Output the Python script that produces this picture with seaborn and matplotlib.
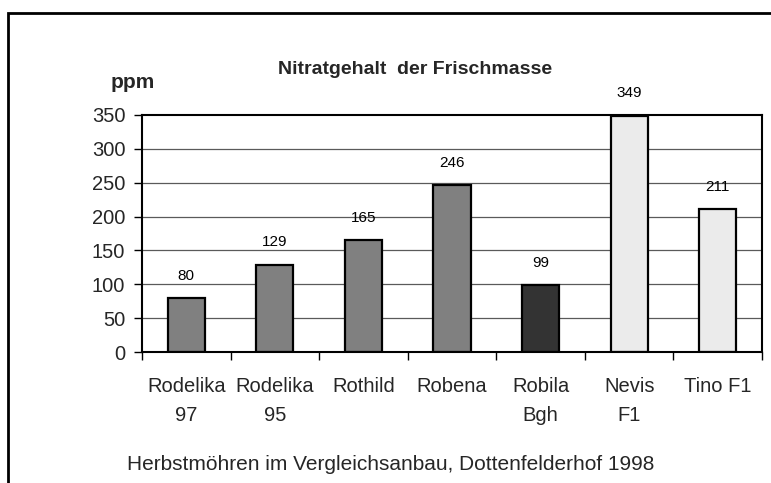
# Nitratgehalt der Frischmasse – Herbstmöhren, Dottenfelderhof 1998

import matplotlib.pyplot as plt
import numpy as np
import pandas as pd
import seaborn as sns
from matplotlib.patches import Rectangle

sorten = ["Rodelika\n97", "Rodelika\n95", "Rothild", "Robena", "Robila\nBgh", "Nevis\nF1", "Tino F1"]
nitrat_ppm = [80, 129, 165, 246, 99, 349, 211]
farben = ["#808080", "#808080", "#808080", "#808080", "#333333", "#ebebeb", "#ebebeb"]
y_ticks = [0, 50, 100, 150, 200, 250, 300, 350]

sns.set_theme(style="white")
plt.rcParams["font.family"] = ["Liberation Sans", "DejaVu Sans"]

df = pd.DataFrame({"sorte": sorten, "ppm": nitrat_ppm})

fig = plt.figure(figsize=(7.71, 4.83), dpi=100)
ax = fig.add_axes([142 / 771, 1 - 352 / 483, 620 / 771, 237 / 483])

# Rahmen um das ganze Diagramm (rechts und unten abgeschnitten)
fig.patches.append(Rectangle((8 / 771, -0.1), 1.2, 1 - 13 / 483 + 0.1,
                             transform=fig.transFigure, fill=False,
                             edgecolor="black", linewidth=2, zorder=0))

for y in y_ticks[1:-1]:
    ax.axhline(y, color="#5a5a5a", linewidth=0.9, zorder=0)

sns.barplot(data=df, x="sorte", y="ppm", hue="sorte", palette=farben, legend=False,
            width=0.42, edgecolor="black", linewidth=1.6, saturation=1, ax=ax, zorder=2)

for i, v in enumerate(nitrat_ppm):
    ax.annotate(str(v), (i, v), xytext=(0, 11), textcoords="offset points",
                ha="center", va="bottom", fontsize=11, color="black", annotation_clip=False)

ax.set_xlim(-0.5, len(sorten) - 0.5)
ax.set_ylim(0, 350)
ax.set_yticks(y_ticks)
ax.set_yticklabels([str(t) for t in y_ticks], fontsize=14.5)
ax.set_xticks(np.arange(-0.5, len(sorten)), labels=[""] * (len(sorten) + 1))
ax.set_xticks(np.arange(len(sorten)), labels=sorten, minor=True)
ax.tick_params(axis="x", which="major", direction="out", length=6, width=1, color="black", bottom=True)
ax.tick_params(axis="x", which="minor", length=0, pad=18, labelsize=14.5)
ax.tick_params(axis="y", direction="out", length=6, width=1, color="black", left=True, pad=6)
for lab in ax.get_xticklabels(minor=True):
    lab.set_linespacing(1.65)
ax.set_xlabel("")
ax.set_ylabel("")

for s in ax.spines.values():
    s.set_color("black")
    s.set_linewidth(1.5)

fig.text(415 / 771, 1 - 70 / 483, "Nitratgehalt  der Frischmasse", ha="center", va="center",
         fontsize=14, fontweight="bold")
fig.text(133 / 771, 1 - 82 / 483, "ppm", ha="center", va="center", fontsize=15, fontweight="bold")
fig.text(391 / 771, 1 - 464 / 483, "Herbstmöhren im Vergleichsanbau, Dottenfelderhof 1998",
         ha="center", va="center", fontsize=15)

fig.savefig("out.png", dpi=100)
